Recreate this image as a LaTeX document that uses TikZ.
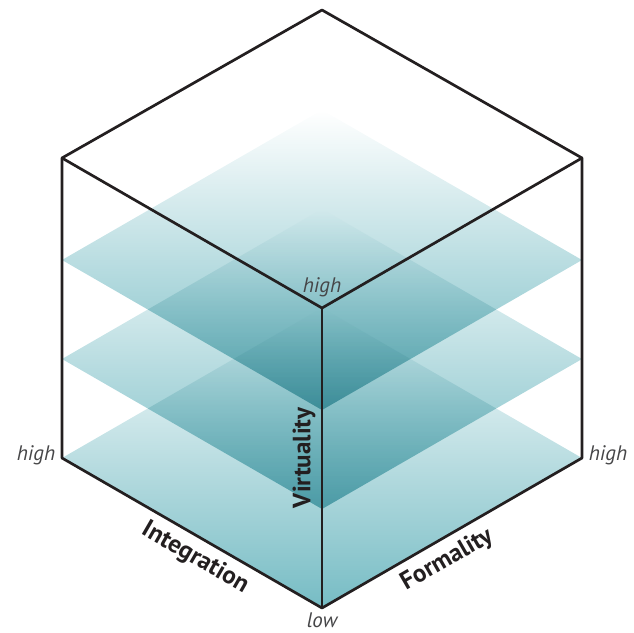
\documentclass[tikz,border=0pt]{standalone}
\usepackage{fontspec}
\setmainfont{PT Sans}
\begin{document}
\begin{tikzpicture}[x=1pt,y=-1pt,
  edge/.style={draw=cubeline,line width=2.7pt,line join=round},
  plane/.style={shading=axis,top color=white,middle color=planemid,bottom color=planebot,blend mode=multiply},
  lowhigh/.style={font=\fontsize{21}{21}\selectfont\itshape,text=labgrey,inner sep=0pt},
  axislab/.style={font=\fontsize{25}{25}\selectfont\bfseries,text=cubeline,inner sep=0pt}]
\definecolor{cubeline}{RGB}{35,31,32}
\definecolor{planemid}{RGB}{196,213,218}
\definecolor{planebot}{RGB}{118,188,196}
\definecolor{labgrey}{RGB}{70,70,72}
\useasboundingbox (0,0) rectangle (634,632);
% planes
\path[plane] (322,110) -- (582,260) -- (322,410) -- (62,260) -- cycle;
\path[plane] (322,209) -- (582,359) -- (322,509) -- (62,359) -- cycle;
\path[plane] (322,308) -- (582,458) -- (322,608) -- (62,458) -- cycle;
% cube vertices
\coordinate (T) at (322,10);
\coordinate (TL) at (62,158);
\coordinate (TR) at (582,158);
\coordinate (C) at (322,308);
\coordinate (BL) at (62,458);
\coordinate (BR) at (582,458);
\coordinate (B) at (322,608);
\draw[edge] (T) -- (TR) -- (BR) -- (B) -- (BL) -- (TL) -- cycle;
\draw[edge] (TL) -- (C) -- (TR);
\draw[edge] (C) -- (B);
% labels
\node[lowhigh] (hl) at (36,455) {high};
\node[lowhigh] (hc) at (322,287) {high};
\node[lowhigh] (hr) at (608,455) {high};
\node[lowhigh] (lo) at (322,620) {low};
\node[axislab,rotate=90] (virt) at (304,458) {Virtuality};
\node[axislab,rotate=-30] (integ) at (195,558) {Integration};
\node[axislab,rotate=30] (form) at (447,560) {Formality};
\end{tikzpicture}
\end{document}
